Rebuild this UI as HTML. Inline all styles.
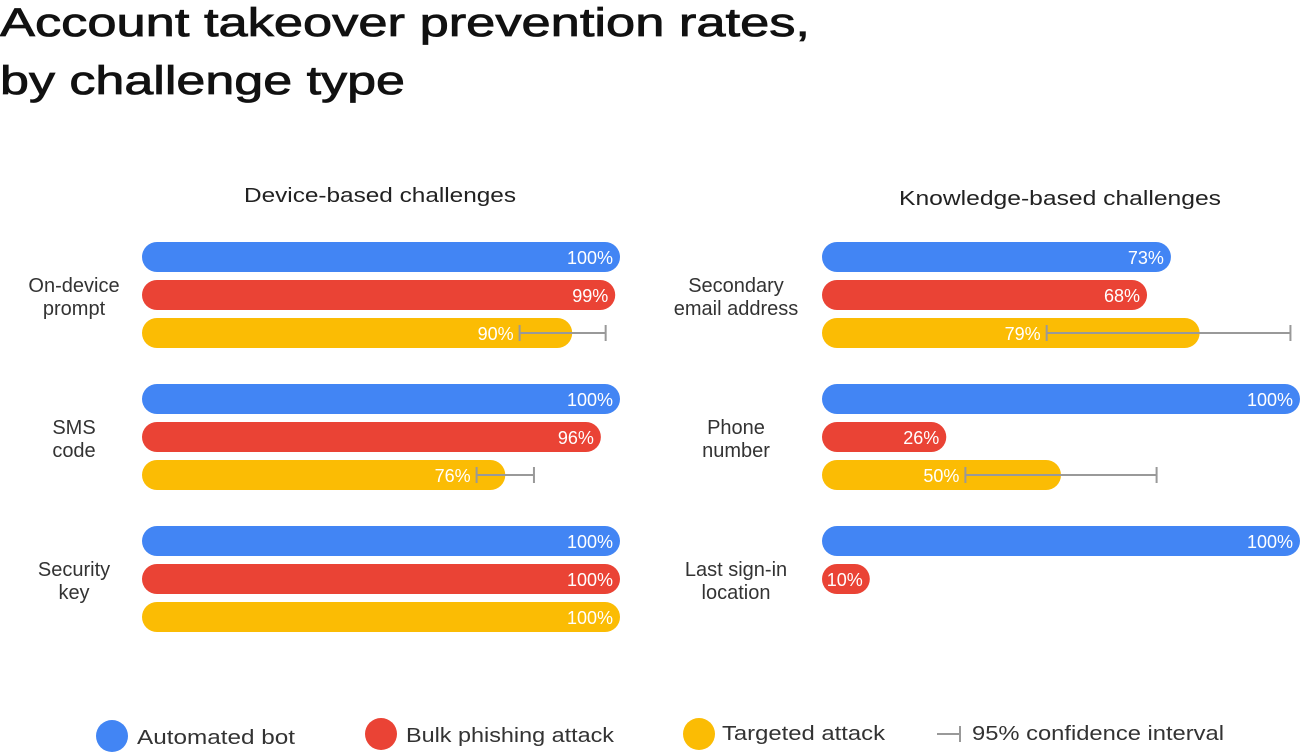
<!DOCTYPE html>
<html><head><meta charset="utf-8"><style>
html,body{margin:0;padding:0;background:#fff;}
svg{display:block;font-family:"Liberation Sans",sans-serif;}
</style></head><body>
<svg id="chart" width="1300" height="754" viewBox="0 0 1300 754">
<text x="0" y="36" font-size="40" fill="#111" stroke="#111" stroke-width="0.8" textLength="810" lengthAdjust="spacingAndGlyphs">Account takeover prevention rates,</text>
<text x="0" y="94" font-size="40" fill="#111" stroke="#111" stroke-width="0.8" textLength="405" lengthAdjust="spacingAndGlyphs">by challenge type</text>
<text x="380" y="202" font-size="20" fill="#222" text-anchor="middle" textLength="272" lengthAdjust="spacingAndGlyphs">Device-based challenges</text>
<text x="1060" y="205" font-size="20" fill="#222" text-anchor="middle" textLength="322" lengthAdjust="spacingAndGlyphs">Knowledge-based challenges</text>
<g id="bars"></g>
<g>
<circle cx="112" cy="736" r="16" fill="#4285F4"/>
<text x="137" y="744" font-size="20" fill="#333" textLength="158" lengthAdjust="spacingAndGlyphs">Automated bot</text>
<circle cx="381" cy="734" r="16" fill="#EA4335"/>
<text x="406" y="742" font-size="20" fill="#333" textLength="208" lengthAdjust="spacingAndGlyphs">Bulk phishing attack</text>
<circle cx="699" cy="734" r="16" fill="#FBBC04"/>
<text x="722" y="740" font-size="20" fill="#333" textLength="163" lengthAdjust="spacingAndGlyphs">Targeted attack</text>
<line x1="937" y1="734" x2="960" y2="734" stroke="#999" stroke-width="2"/>
<line x1="960" y1="726" x2="960" y2="742" stroke="#999" stroke-width="2"/>
<text x="972" y="740" font-size="20" fill="#333" textLength="252" lengthAdjust="spacingAndGlyphs">95% confidence interval</text>
</g>
</svg>
<script>
const leftCategories = [["On-device","prompt"],["SMS","code"],["Security","key"]];
const leftBot = [100,100,100];
const leftBulk = [99,96,100];
const leftTargeted = [90,76,100];
const leftCiLow = [79,70,null];
const leftCiHigh = [97,82,null];
const rightCategories = [["Secondary","email address"],["Phone","number"],["Last sign-in","location"]];
const rightBot = [73,100,100];
const rightBulk = [68,26,10];
const rightTargeted = [79,50,null];
const rightCiLow = [47,30,null];
const rightCiHigh = [98,70,null];

const NS="http://www.w3.org/2000/svg";
const g=document.getElementById('bars');
const colors=["#4285F4","#EA4335","#FBBC04"];
const seriesNames=["bot","bulk","targeted"];
function xScale(x0,v){return x0+v*4.78;}
function yCenter(gi,si){return 257+gi*142+si*38;}
function mk(tag,attrs){const e=document.createElementNS(NS,tag);for(const k in attrs)e.setAttribute(k,attrs[k]);g.appendChild(e);return e;}
function panel(side,x0,labelX,cats,series,ciLo,ciHi){
  cats.forEach((c,gi)=>{
    const yc=yCenter(gi,1);
    c.forEach((line,li)=>{
      const t=mk('text',{x:labelX,y:yc-3+li*23-(c.length-1)*11+11,'font-size':20,fill:'#333','text-anchor':'middle'});
      t.textContent=line;
      
      
    });
    series.forEach((arr,si)=>{
      const v=arr[gi]; if(v==null) return;
      const y=yCenter(gi,si);
      const w=Math.max(xScale(x0,v)-x0,30);
      const r=mk('rect',{x:x0,y:y-15,width:w,height:30,rx:15,fill:colors[si]});
      
      
      let lx=x0+w-7;
      if(si===2 && ciLo[gi]!=null) lx=xScale(x0,ciLo[gi])-6;
      const t=mk('text',{x:lx,y:y+7,'font-size':18,fill:'#fff','text-anchor':'end'});
      t.textContent=v+'%';
      
      
    });
    if(ciLo[gi]!=null){
      const y=yCenter(gi,2),a=xScale(x0,ciLo[gi]),b=xScale(x0,ciHi[gi]);
      const l=mk('path',{d:`M${a},${y}H${b}M${a},${y-8}V${y+8}M${b},${y-8}V${y+8}`,stroke:'#999','stroke-width':2,fill:'none'});
      
      
    }
  });
}
panel('left',142,74,leftCategories,[leftBot,leftBulk,leftTargeted],leftCiLow,leftCiHigh);
panel('right',822,736,rightCategories,[rightBot,rightBulk,rightTargeted],rightCiLow,rightCiHigh);
</script>
</body></html>
